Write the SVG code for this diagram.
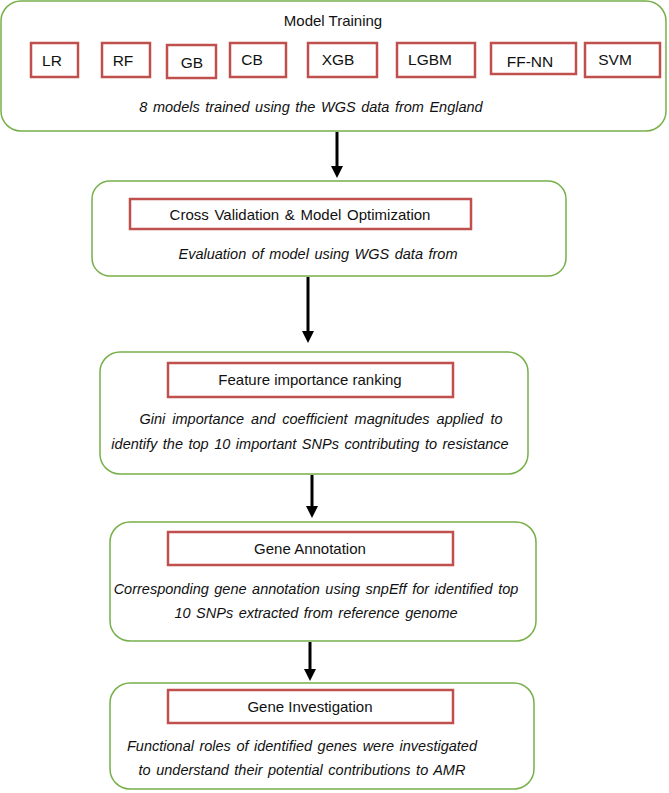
<svg xmlns="http://www.w3.org/2000/svg" width="669" height="793" viewBox="0 0 669 793">
<style>
.outer{fill:#fff;stroke:#77B04A;stroke-width:1.5}
.red{fill:#fff;stroke:#C0504D;stroke-width:2.5}
text{font-family:"Liberation Sans",Arial,sans-serif;fill:#111;text-anchor:middle}
.t{font-size:15.5px}
.h{font-size:15px}
.i{font-size:14.5px;font-style:italic;word-spacing:1.5px}
.c{stroke:#000;stroke-width:3;fill:none}
</style>
<defs>
<marker id="ah" markerWidth="4" markerHeight="4" refX="2" refY="2" orient="auto" markerUnits="strokeWidth">
<path d="M0,0 L4,2 L0,4 Z" fill="#000"/>
</marker>
</defs>
<rect width="669" height="793" fill="#fff"/>
<g id="connectors">
<line class="c" x1="337" y1="132" x2="337" y2="172" marker-end="url(#ah)"/>
<line class="c" x1="308" y1="277" x2="308" y2="337" marker-end="url(#ah)"/>
<line class="c" x1="312" y1="475" x2="312" y2="512" marker-end="url(#ah)"/>
<line class="c" x1="310" y1="642" x2="310" y2="675" marker-end="url(#ah)"/>
</g>
<g id="model-training">
<rect class="outer" x="1" y="1" width="665" height="130" rx="20"/>
<text class="h" x="333" y="26">Model Training</text>
<g id="LR"><rect class="red" x="31" y="43" width="47" height="34"/><text class="t" x="52" y="66">LR</text></g>
<g id="RF"><rect class="red" x="102" y="43" width="48" height="34"/><text class="t" x="123" y="66">RF</text></g>
<g id="GB"><rect class="red" x="167" y="45" width="49" height="33"/><text class="t" x="192" y="68">GB</text></g>
<g id="CB"><rect class="red" x="230" y="43" width="56" height="34"/><text class="t" x="252" y="65">CB</text></g>
<g id="XGB"><rect class="red" x="308" y="43" width="69" height="34"/><text class="t" x="338" y="65">XGB</text></g>
<g id="LGBM"><rect class="red" x="397" y="43" width="78" height="34"/><text class="t" x="430" y="65">LGBM</text></g>
<g id="FF-NN"><rect class="red" x="491" y="43" width="85" height="31"/><text class="t" x="530" y="67">FF-NN</text></g>
<g id="SVM"><rect class="red" x="585" y="43" width="75" height="34"/><text class="t" x="615" y="65">SVM</text></g>
<text class="i" x="311" y="112">8 models trained using the WGS data from England</text>
</g>
<g id="cross-validation">
<rect class="outer" x="92" y="181" width="474" height="95" rx="18"/>
<rect class="red" x="130" y="199" width="341" height="30"/>
<text class="h" x="300" y="220" style="word-spacing:1.5px">Cross Validation  &amp; Model Optimization</text>
<text class="i" x="318" y="259">Evaluation  of model using WGS data from</text>
</g>
<g id="feature-ranking">
<rect class="outer" x="100" y="352" width="428" height="122" rx="20"/>
<rect class="red" x="168" y="363" width="285" height="34"/>
<text class="h" x="310" y="385">Feature importance ranking</text>
<text class="i" x="321" y="424" style="word-spacing:3px">Gini importance and coefficient magnitudes applied to</text>
<text class="i" x="310" y="449">identify the top 10 important SNPs contributing to resistance</text>
</g>
<g id="gene-annotation">
<rect class="outer" x="110" y="522" width="426" height="119" rx="20"/>
<rect class="red" x="168" y="532" width="285" height="33"/>
<text class="h" x="310" y="554">Gene Annotation</text>
<text class="i" x="316" y="594">Corresponding gene annotation  using snpEff for identified  top</text>
<text class="i" x="316" y="618">10 SNPs  extracted from reference genome</text>
</g>
<g id="gene-investigation">
<rect class="outer" x="110" y="683" width="424" height="106" rx="20"/>
<rect class="red" x="168" y="690" width="285" height="33"/>
<text class="h" x="310" y="712">Gene Investigation</text>
<text class="i" x="302" y="751">Functional roles of identified  genes  were investigated</text>
<text class="i" x="302" y="775">to understand their potential contributions to AMR</text>
</g>
</svg>
